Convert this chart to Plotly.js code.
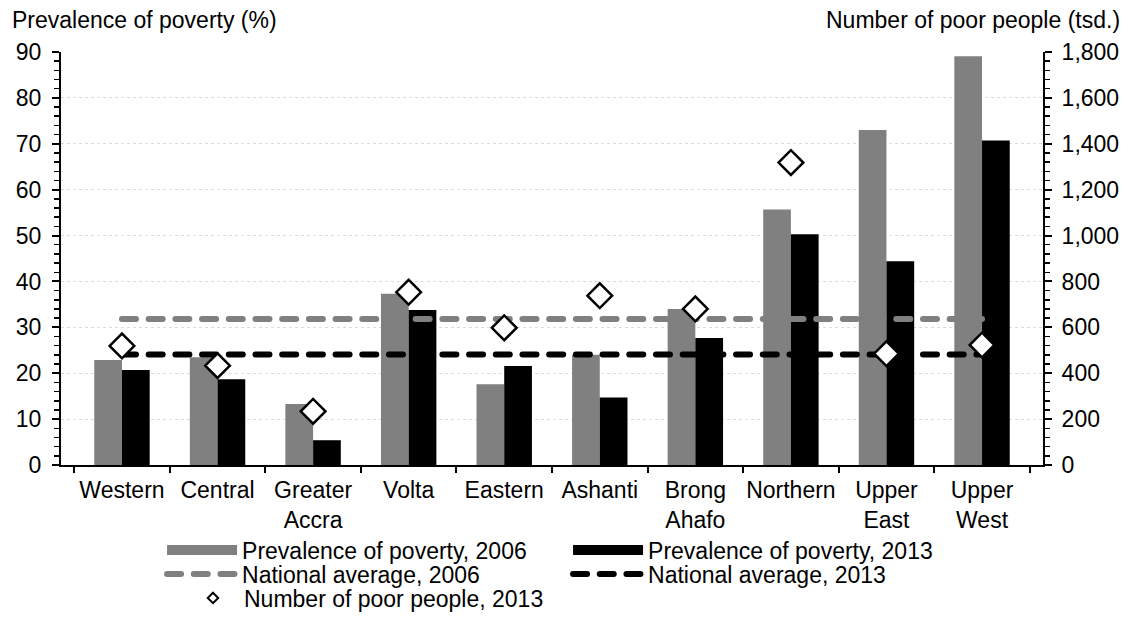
<!DOCTYPE html>
<html><head><meta charset="utf-8">
<script src="https://cdn.plot.ly/plotly-3.0.1.min.js"></script>
<style>
html,body{margin:0;padding:0;background:#fff}
#chart{width:1134px;height:630px}
.scatterlayer .js-line{stroke-linecap:round}
.legend2 .js-line{stroke-linecap:round}
</style></head>
<body><div id="chart"></div>
<script>
const regions = ["Western","Central","Greater<br>Accra","Volta","Eastern","Ashanti","Brong<br>Ahafo","Northern","Upper<br>East","Upper<br>West"];
const poverty2006 = [22.9,23.5,13.3,37.3,17.6,24.0,34.0,55.7,73.0,89.1];
const poverty2013 = [20.7,18.7,5.4,33.8,21.6,14.7,27.7,50.3,44.4,70.7];
const nationalAverage2006 = 31.8;
const nationalAverage2013 = 24.1;
const poorPeople2013 = [519,433,234,753,598,738,680,1318,485,523];
const names = {
  bar06: "Prevalence of poverty, 2006",
  bar13: "Prevalence of poverty, 2013",
  avg06: "National average, 2006",
  avg13: "National average, 2013",
  poor13: "Number of poor people, 2013"
};
const leftTitle = "Prevalence of poverty (%)";
const rightTitle = "Number of poor people (tsd.)";

const FONT = "Liberation Sans, Arial, sans-serif";
const GRAY = "#808080";
const DASH = "14px,12.7px";

const traces = [
  {type:"bar", x:regions, y:poverty2006, name:names.bar06, marker:{color:GRAY}, showlegend:false, hoverinfo:"skip"},
  {type:"bar", x:regions, y:poverty2013, name:names.bar13, marker:{color:"#000"}, showlegend:false, hoverinfo:"skip"},
  {type:"scatter", mode:"lines", x:regions, y:regions.map(()=>nationalAverage2006), name:names.avg06,
   line:{color:GRAY, width:6, dash:DASH}, legend:"legend2"},
  {type:"scatter", mode:"lines", x:regions, y:regions.map(()=>nationalAverage2013), name:names.avg13,
   line:{color:"#000", width:6, dash:DASH}, legend:"legend2"},
  {type:"scatter", mode:"markers", x:regions, y:poorPeople2013, yaxis:"y2", name:names.poor13,
   marker:{symbol:"diamond", size:19, color:"#fff", line:{color:"#000", width:2.5}}, showlegend:false},
  // legend proxies for the bar series and the marker series
  {type:"scatter", mode:"lines", x:[null], y:[null], name:names.bar06, line:{color:GRAY, width:12}, legend:"legend"},
  {type:"scatter", mode:"lines", x:[null], y:[null], name:names.bar13, line:{color:"#000", width:12}, legend:"legend"},
  {type:"scatter", mode:"markers", x:[null], y:[null], yaxis:"y2", name:names.poor13,
   marker:{symbol:"diamond", size:8, color:"#fff", line:{color:"#000", width:2}}, legend:"legend3"}
];

function legendRow(x, y, itemwidth){
  return {orientation:"h", x:x, xanchor:"left", y:y, yanchor:"middle",
    entrywidth:321, entrywidthmode:"pixels", itemwidth:itemwidth, traceorder:"normal",
    font:{family:FONT, size:23, color:"#000"}, bgcolor:"rgba(0,0,0,0)", borderwidth:0};
}

const layout = {
  width:1134, height:630,
  margin:{l:61, r:91, t:52, b:165, autoexpand:false},
  paper_bgcolor:"#fff", plot_bgcolor:"#fff",
  font:{family:FONT, size:23, color:"#000"},
  barmode:"group", bargap:0.42, bargroupgap:0,
  showlegend:true,
  legend:legendRow(0.1029, -0.2058, 70),
  legend2:legendRow(0.1029, -0.2639, 70),
  legend3:legendRow(0.1232, -0.322, 52),
  xaxis:{type:"category", showline:true, linecolor:"#000", linewidth:2, ticks:"outside", tickson:"boundaries",
    ticklen:6, tickcolor:"#000", tickwidth:2, showgrid:false, zeroline:false, fixedrange:true,
    tickangle:0, automargin:false, ticklabelstandoff:3, tickfont:{family:FONT, size:23}},
  yaxis:{range:[0,90], dtick:10, tick0:0, showline:true, linecolor:"#000", linewidth:2, ticks:"outside",
    ticklen:7, tickwidth:2, tickcolor:"#000", ticklabelstandoff:6, automargin:false,
    minor:{dtick:2, ticks:"outside", ticklen:5, tickwidth:1.5, tickcolor:"#000", showgrid:false},
    showgrid:true, gridcolor:"#dcdcdc", griddash:"dot", gridwidth:1, zeroline:false, fixedrange:true,
    tickfont:{family:FONT, size:23}},
  yaxis2:{overlaying:"y", side:"right", range:[0,1800], dtick:200, tick0:0, tickformat:",d",
    showline:true, linecolor:"#000", linewidth:2, ticks:"outside", ticklen:7, tickwidth:2, tickcolor:"#000",
    ticklabelstandoff:5, automargin:false,
    minor:{dtick:40, ticks:"outside", ticklen:5, tickwidth:1.5, tickcolor:"#000", showgrid:false},
    showgrid:false, zeroline:false, fixedrange:true, tickfont:{family:FONT, size:23}},
  annotations:[
    {text:leftTitle, xref:"paper", yref:"paper", x:-0.052, y:1.077, xanchor:"left", yanchor:"middle",
     showarrow:false, font:{family:FONT, size:23}},
    {text:rightTitle, xref:"paper", yref:"paper", x:1.0805, y:1.077, xanchor:"right", yanchor:"middle",
     showarrow:false, font:{family:FONT, size:23}}
  ]
};

Plotly.newPlot("chart", traces, layout, {displayModeBar:false, staticPlot:true});
</script>
</body></html>
